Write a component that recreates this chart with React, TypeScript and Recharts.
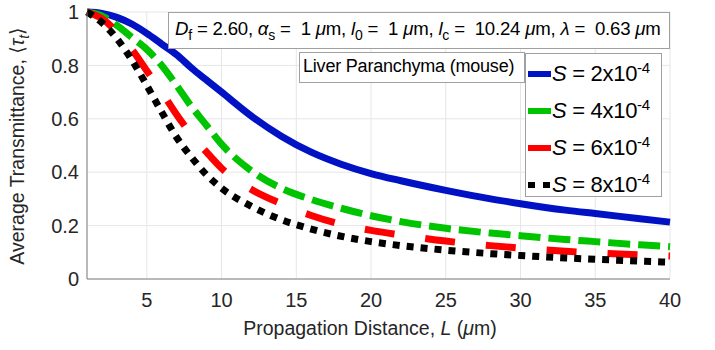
import { LineChart, Line, XAxis, YAxis, CartesianGrid, Legend } from 'recharts';

// propagation distance L (um)
const distance = [1, 2, 3, 4, 5, 6, 7, 8, 9, 10, 12, 14, 16, 18, 20, 22, 25, 28, 30, 33, 35, 38, 40];
// average transmittance for each S
const s2 = [1.0, 0.995, 0.98, 0.955, 0.92, 0.88, 0.84, 0.79, 0.745, 0.7, 0.61, 0.535, 0.475, 0.43, 0.395, 0.368, 0.332, 0.3, 0.282, 0.258, 0.245, 0.226, 0.213];
const s4 = [1.0, 0.985, 0.95, 0.905, 0.86, 0.8, 0.725, 0.645, 0.575, 0.505, 0.405, 0.34, 0.298, 0.265, 0.237, 0.215, 0.19, 0.172, 0.162, 0.148, 0.14, 0.128, 0.121];
const s6 = [1.0, 0.975, 0.925, 0.86, 0.78, 0.7, 0.615, 0.54, 0.475, 0.415, 0.335, 0.282, 0.238, 0.205, 0.182, 0.165, 0.142, 0.125, 0.116, 0.104, 0.098, 0.09, 0.086];
const s8 = [1.0, 0.96, 0.9, 0.82, 0.725, 0.625, 0.53, 0.455, 0.39, 0.34, 0.272, 0.222, 0.187, 0.16, 0.14, 0.125, 0.108, 0.095, 0.088, 0.079, 0.074, 0.067, 0.063];

const xTicks = [5, 10, 15, 20, 25, 30, 35, 40];
const yTicks = [0, 0.2, 0.4, 0.6, 0.8, 1];

const rows = distance.map((L, i) => ({ L, s2: s2[i], s4: s4[i], s6: s6[i], s8: s8[i] }));

const series = [
  { key: 's2', mant: '2', color: '#0012c4', dash: undefined as string | undefined },
  { key: 's4', mant: '4', color: '#00c400', dash: '22 8' },
  { key: 's6', mant: '6', color: '#ff0000', dash: '30 31' },
  { key: 's8', mant: '8', color: '#000000', dash: '7 7' },
];

const FONT = '"Liberation Sans", Arial, sans-serif';
const TXT = '#262626';

function renderLegend() {
  return (
    <div
      style={{
        width: 137,
        height: 144,
        boxSizing: 'border-box',
        border: '1px solid #a0a0a0',
        background: '#fff',
        fontFamily: FONT,
        color: '#000',
      }}
    >
      {series.map((s) => (
        <div key={s.key} style={{ display: 'flex', alignItems: 'center', height: 35, paddingLeft: 2, paddingTop: 2 }}>
          {s.key === 's8' ? (
            <span style={{ width: 23, height: 6, display: 'flex', gap: 8, flexShrink: 0 }}>
              <span style={{ width: 7, height: 6, background: '#000' }} />
              <span style={{ width: 7, height: 6, background: '#000' }} />
            </span>
          ) : (
            <span style={{ width: 23, height: 6, background: s.color, flexShrink: 0 }} />
          )}
          <span style={{ fontSize: 22, marginLeft: 1, whiteSpace: 'nowrap', letterSpacing: -0.3 }}>
            <i>S</i> = {s.mant}x10<sup style={{ fontSize: 15 }}>-4</sup>
          </span>
        </div>
      ))}
    </div>
  );
}

const sub = { fontSize: 14 };

export default function App() {
  return (
    <div style={{ position: 'absolute', left: 0, top: 0, width: 715, height: 350, background: '#fff', overflow: 'hidden' }}>
      <LineChart width={715} height={350} data={rows} margin={{ top: 12, right: 45, bottom: 41, left: 0 }}>
        <CartesianGrid stroke="#e6e6e6" strokeWidth={1} />
        <XAxis
          dataKey="L"
          type="number"
          domain={[1, 40]}
          ticks={xTicks}
          height={30}
          tickLine={false}
          tickMargin={8}
          stroke="#808080"
          tick={{ fontSize: 20, fill: TXT, fontFamily: FONT }}
          label={{
            content: () => (
              <text x={370} y={335} textAnchor="middle" fontSize={19.5} fill={TXT} fontFamily={FONT}>
                Propagation Distance, <tspan fontStyle="italic">L</tspan> (<tspan fontStyle="italic">μ</tspan>m)
              </text>
            ),
          }}
        />
        <XAxis xAxisId="top" orientation="top" dataKey="L" type="number" domain={[1, 40]} height={0} tick={false} tickLine={false} stroke="#808080" />
        <YAxis
          type="number"
          domain={[0, 1]}
          ticks={yTicks}
          width={87}
          tickLine={false}
          stroke="#808080"
          tick={{ fontSize: 20, fill: TXT, fontFamily: FONT }}
          label={{
            content: () => (
              <text transform="translate(24,146) rotate(-90)" textAnchor="middle" fontSize={19.5} fill={TXT} fontFamily={FONT}>
                Average Transmittance, <tspan fontFamily="DejaVu Sans">⟨</tspan>
                <tspan fontStyle="italic">τ</tspan>
                <tspan fontStyle="italic" fontSize={14} dy={5}>t</tspan>
                <tspan dy={-5} fontFamily="DejaVu Sans">⟩</tspan>
              </text>
            ),
          }}
        />
        <YAxis yAxisId="right" orientation="right" domain={[0, 1]} width={0} tick={false} tickLine={false} stroke="#808080" />
        {series.map((s) => (
          <Line
            key={s.key}
            dataKey={s.key}
            type="monotone"
            stroke={s.color}
            strokeWidth={7}
            strokeDasharray={s.dash}
            strokeLinecap="butt"
            dot={false}
            isAnimationActive={false}
          />
        ))}
        <Legend
          layout="vertical"
          align="center"
          verticalAlign="middle"
          content={renderLegend}
          wrapperStyle={{ position: 'absolute', left: 525, top: 53, width: 137, height: 144 }}
        />
      </LineChart>
      <div
        style={{
          position: 'absolute',
          left: 168,
          top: 12,
          width: 502,
          height: 37,
          boxSizing: 'border-box',
          border: '1px solid #a0a0a0',
          background: '#fff',
          fontFamily: FONT,
          fontSize: 18.6,
          color: '#000',
          lineHeight: '31px',
          paddingLeft: 6,
          whiteSpace: 'pre',
          letterSpacing: -0.2,
          overflow: 'hidden',
        }}
      >
        <i>D</i>
        <sub style={sub}>f</sub>{' = 2.60, '}<i>α</i>
        <sub style={sub}>s</sub>{' =  1 '}<i>μ</i>{'m, '}<i>l</i>
        <sub style={sub}>0</sub>{' =  1 '}<i>μ</i>{'m, '}<i>l</i>
        <sub style={sub}>c</sub>{' =  10.24 '}<i>μ</i>{'m, '}<i>λ</i>{' =  0.63 '}<i>μ</i>m
      </div>
      <div
        style={{
          position: 'absolute',
          left: 299,
          top: 52,
          width: 226,
          height: 31,
          boxSizing: 'border-box',
          border: '1px solid #a0a0a0',
          background: '#fff',
          fontFamily: FONT,
          fontSize: 18,
          color: '#000',
          lineHeight: '27px',
          paddingLeft: 3,
          whiteSpace: 'nowrap',
          letterSpacing: -0.2,
        }}
      >
        Liver Paranchyma (mouse)
      </div>
    </div>
  );
}
